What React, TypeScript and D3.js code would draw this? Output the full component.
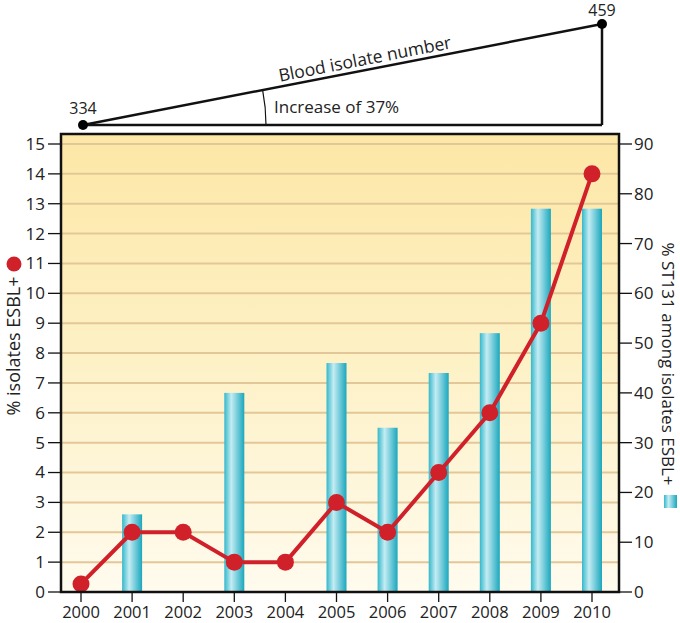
import React, { useEffect } from 'react';
import * as d3 from 'd3';

// data
const years = [2000, 2001, 2002, 2003, 2004, 2005, 2006, 2007, 2008, 2009, 2010];
const esblPct = [0.27, 2, 2, 1, 1, 3, 2, 4, 6, 9, 14];
const st131Years = [2001, 2003, 2005, 2006, 2007, 2008, 2009, 2010];
const st131Pct = [15.6, 40, 46, 33, 44, 52, 77, 77];
const leftTicks = d3.range(0, 16);
const rightTicks = d3.range(0, 100, 10);
const isolateCounts = [334, 459];
const increaseLabel = 'Increase of 37%';

const W = 680;
const H = 623;
const FONT = "'Open Sans', 'Noto Sans', sans-serif";

export default function App() {
  useEffect(() => {
    document.body.style.margin = '0';
  }, []);

  const left = 61, right = 619, top = 134, bottom = 592;
  const x = d3.scaleLinear().domain([2000, 2010]).range([81, 592]);
  const yL = d3.scaleLinear().domain([0, 15]).range([bottom, 144]);
  const yR = d3.scaleLinear().domain([0, 90]).range([bottom, 144]);

  // triangle showing blood isolate number growth
  const tx = d3.scaleLinear().domain([2000, 2010]).range([83, 602]);
  const ty = d3.scaleLinear().domain(isolateCounts).range([125, 24]);
  const p0 = [tx(2000), ty(isolateCounts[0])];
  const p1 = [tx(2010), ty(isolateCounts[1])];
  const slopeAngle = (Math.atan2(p1[1] - p0[1], p1[0] - p0[0]) * 180) / Math.PI;
  const arcR = 183;
  const arc = d3.arc()({
    innerRadius: arcR,
    outerRadius: arcR,
    startAngle: Math.PI / 2 + (slopeAngle * Math.PI) / 180,
    endAngle: Math.PI / 2,
  });
  const titleX = 366;
  const titleY = p0[1] + (p1[1] - p0[1]) * ((titleX - p0[0]) / (p1[0] - p0[0])) - 5;

  const line = d3.line<number>()
    .x((_, i) => x(years[i]))
    .y((d) => yL(d));

  const barW = 20;

  return (
    <svg width={W} height={H} style={{ display: 'block', fontFamily: FONT }}>
      <defs>
        <linearGradient id="bg" x1="0" y1="0" x2="0" y2="1">
          <stop offset="0%" stopColor="#fde7a6" />
          <stop offset="50%" stopColor="#fdf1c6" />
          <stop offset="100%" stopColor="#fffbee" />
        </linearGradient>
        <linearGradient id="bar" x1="0" y1="0" x2="1" y2="0">
          <stop offset="0%" stopColor="#33b8cb" />
          <stop offset="35%" stopColor="#c4ecf3" />
          <stop offset="100%" stopColor="#1aa7bd" />
        </linearGradient>
      </defs>

      {/* triangle */}
      <g stroke="#111" strokeWidth={2.5} fill="none">
        <line x1={p0[0]} y1={p0[1]} x2={p1[0]} y2={p1[1]} />
        <line x1={p0[0]} y1={p0[1]} x2={p1[0]} y2={p0[1]} />
        <line x1={p1[0]} y1={p1[1]} x2={p1[0]} y2={p0[1]} />
        <path d={arc as string} transform={`translate(${p0[0]},${p0[1]})`} strokeWidth={1.2} />
      </g>
      <circle cx={p0[0]} cy={p0[1]} r={5} fill="#000" />
      <circle cx={p1[0]} cy={p1[1]} r={5} fill="#000" />
      <text x={p0[0]} y={p0[1] - 11} textAnchor="middle" fontSize={16} fill="#222">{isolateCounts[0]}</text>
      <text x={p1[0]} y={p1[1] - 8} textAnchor="middle" fontSize={16} fill="#222">{isolateCounts[1]}</text>
      <text transform={`translate(${titleX},${titleY}) rotate(${slopeAngle})`}
        textAnchor="middle" fontSize={17.5} fill="#222">Blood isolate number</text>
      <text x={274} y={113} fontSize={17} fill="#222">{increaseLabel}</text>

      {/* plot background */}
      <rect x={left} y={top} width={right - left} height={bottom - top} fill="url(#bg)" />
      {leftTicks.filter((t) => t > 0).map((t) => (
        <line key={t} x1={left} x2={right} y1={yL(t)} y2={yL(t)} stroke="#e3c798" strokeWidth={2} />
      ))}

      {/* bars */}
      {st131Pct.map((v, i) => (
        <rect key={i} x={x(st131Years[i]) - barW / 2} y={yR(v)} width={barW} height={bottom - yR(v)} fill="url(#bar)" />
      ))}

      {/* line */}
      <path d={line(esblPct) as string} fill="none" stroke="#d0202a" strokeWidth={4} strokeLinejoin="round" />
      {esblPct.map((v, i) => (
        <circle key={i} cx={x(years[i])} cy={yL(v)} r={8.5} fill="#d0202a" />
      ))}

      <rect x={left} y={top} width={right - left} height={bottom - top} fill="none" stroke="#111" strokeWidth={2.5} />

      {/* left axis */}
      {leftTicks.map((t) => (
        <g key={t}>
          <line x1={48} x2={left} y1={yL(t)} y2={yL(t)} stroke="#111" strokeWidth={1.3} />
          <text x={45} y={yL(t)} dy="0.35em" textAnchor="end" fontSize={17} fill="#222">{t}</text>
        </g>
      ))}
      {/* right axis */}
      {rightTicks.map((t) => (
        <g key={t}>
          <line x1={right} x2={632} y1={yR(t)} y2={yR(t)} stroke="#111" strokeWidth={1.3} />
          <text x={634} y={yR(t)} dy="0.35em" textAnchor="start" fontSize={17} fill="#222">{t}</text>
        </g>
      ))}
      {/* bottom axis */}
      {years.map((yr) => (
        <g key={yr}>
          <line x1={x(yr)} x2={x(yr)} y1={bottom} y2={602} stroke="#111" strokeWidth={1.3} />
          <text x={x(yr)} y={618} textAnchor="middle" fontSize={16.5} fill="#222">{yr}</text>
        </g>
      ))}

      {/* axis titles */}
      <text transform="translate(20,346) rotate(-90)" textAnchor="middle" fontSize={18} fill="#222">% isolates ESBL+</text>
      <circle cx={14} cy={264} r={7.5} fill="#d0202a" />
      <text transform="translate(662,364) rotate(90)" textAnchor="middle" fontSize={17} fill="#222">% ST131 among isolates ESBL+</text>
      <rect x={664} y={495} width={13} height={13} fill="url(#bar)" />
    </svg>
  );
}
